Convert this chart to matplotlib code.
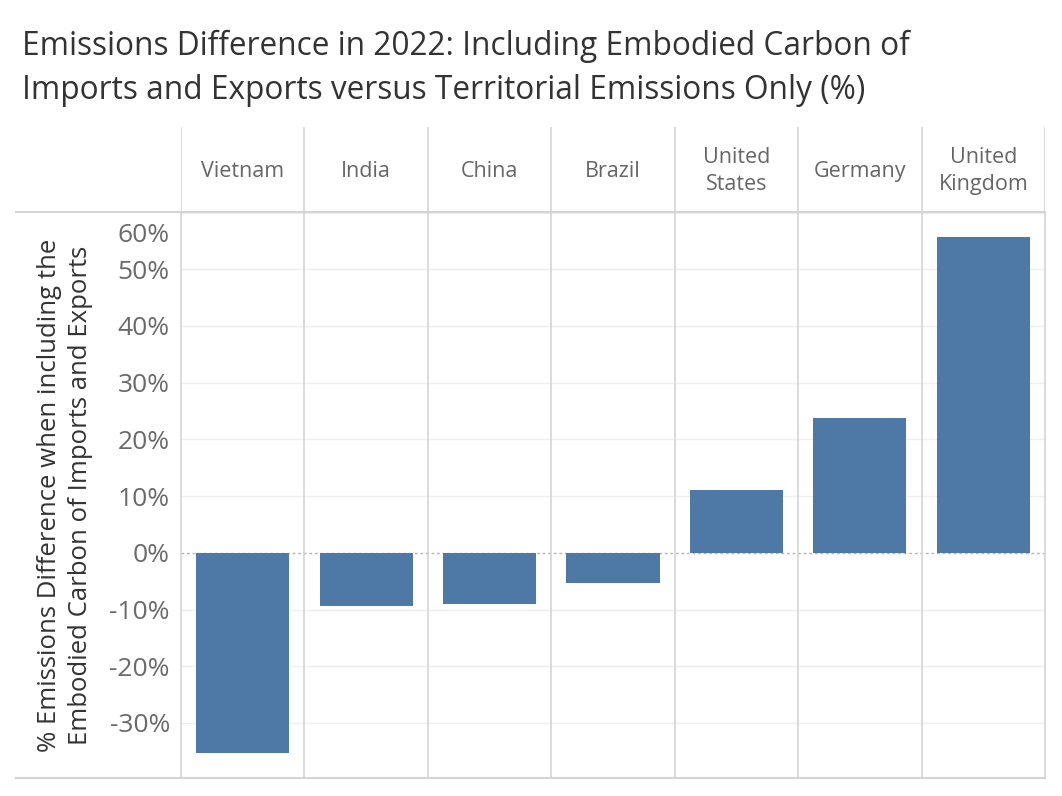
import matplotlib
matplotlib.use('Agg')
import matplotlib.pyplot as plt
from matplotlib.lines import Line2D
from matplotlib.transforms import ScaledTranslation

plt.rcParams['font.family'] = ['Open Sans', 'DejaVu Sans']

# ==================== 数据 ====================
countries = ['Vietnam', 'India', 'China', 'Brazil', 'United\nStates', 'Germany', 'United\nKingdom']
diff_pct = [-35.3, -9.3, -9.1, -5.35, 11.0, 23.8, 55.7]
yticks = [-30, -20, -10, 0, 10, 20, 30, 40, 50, 60]

BAR_COLOR = '#4e79a7'
SEP_COLOR = '#d4d4d4'
GRID_COLOR = '#efefef'

W, H = 1062, 796
fig = plt.figure(figsize=(W / 100, H / 100), dpi=100)

# 主图区域 (像素坐标换算)
x0, x1 = 181, 1045
y_top, y_bot, y_head = 212, 778, 127
ax = fig.add_axes([x0 / W, 1 - y_bot / H, (x1 - x0) / W, (y_bot - y_top) / H])
hx = fig.add_axes([x0 / W, 1 - y_top / H, (x1 - x0) / W, (y_top - y_head) / H])

n = len(countries)
xs = list(range(n))
ax.bar(xs, diff_pct, width=0.755, color=BAR_COLOR, zorder=3)
ax.set_xlim(-0.5, n - 0.5)
ax.set_ylim(-39.7, 60.1)

# 网格线
for t in yticks:
    if t != 0:
        ax.axhline(t, color=GRID_COLOR, lw=1, zorder=1)
ax.axhline(0, color='#b5b5b5', lw=1, ls=(0, (2, 2)), zorder=2)

for b in range(1, n):
    ax.axvline(b - 0.5, color=SEP_COLOR, lw=1.2, zorder=2)
    hx.axvline(b - 0.5, color=SEP_COLOR, lw=1.2)

ax.set_yticks(yticks)
ax.set_yticklabels([f'{t}%' for t in yticks], fontsize=19, color='#6a6a6a')
ax.tick_params(axis='y', length=0, pad=8)
ax.set_xticks([])
# 顶部 60% 标签下移, 避免被表头压住
for lab, t in zip(ax.get_yticklabels(), yticks):
    if t == 60:
        lab.set_transform(lab.get_transform() + ScaledTranslation(0, -14 / 72, fig.dpi_scale_trans))
for s in ['top', 'bottom']:
    ax.spines[s].set_visible(False)
for s in ['left', 'right']:
    ax.spines[s].set_color(SEP_COLOR)
    ax.spines[s].set_linewidth(1.2)

ax.set_ylabel('% Emissions Difference when including the\nEmbodied Carbon of Imports and Exports',
              fontsize=18.5, color='#333333', labelpad=12, linespacing=1.3)

# 表头
hx.set_xlim(-0.5, n - 0.5)
hx.set_ylim(0, 1)
hx.axis('off')
hx.axvline(-0.5, color=SEP_COLOR, lw=1.2)
hx.axvline(n - 0.5, color=SEP_COLOR, lw=1.2)
for i, c in enumerate(countries):
    hx.text(i, 0.48, c, ha='center', va='center', fontsize=15.5, color='#666666', linespacing=1.35)

# 表头下方 / 底部横线
fig.add_artist(Line2D([16 / W, x1 / W], [1 - y_top / H] * 2, color=SEP_COLOR, lw=1.5))
fig.add_artist(Line2D([16 / W, x1 / W], [1 - y_bot / H] * 2, color=SEP_COLOR, lw=1.5))

fig.text(22 / W, 1 - 30 / H,
         'Emissions Difference in 2022: Including Embodied Carbon of\n'
         'Imports and Exports versus Territorial Emissions Only (%)',
         ha='left', va='top', fontsize=22.8, color='#333333', linespacing=1.45)

plt.savefig('out.png', dpi=100)
plt.close()
